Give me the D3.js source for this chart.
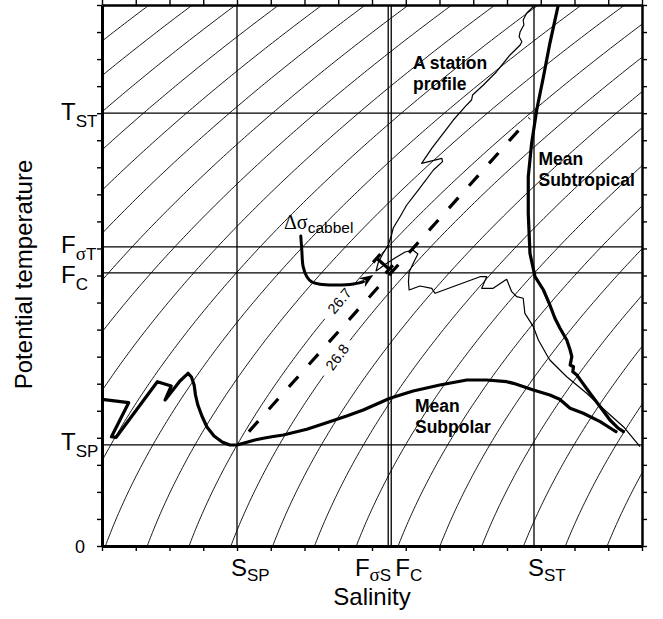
<!DOCTYPE html>
<html>
<head>
<meta charset="utf-8">
<script src="https://cdn.jsdelivr.net/npm/d3@7"></script>
<style>
  html, body { margin: 0; padding: 0; background: #fff; }
  svg { display: block; }
  text { font-family: "Liberation Sans", Arial, Helvetica, sans-serif; fill: #000; }
</style>
</head>
<body>
<svg id="chart" width="663" height="619"></svg>
<script>
// ---- axis extents (salinity in psu, potential temperature in degC) ----
const salinityDomain = [33.0, 34.6];
const temperatureDomain = [0, 10];
const salinityTicks = d3.range(0, 17).map(i => +(33.0 + i * 0.1).toFixed(1));
const temperatureTicks = d3.range(0, 21).map(i => i * 0.5);

// ---- isopycnal levels (sigma-theta, kg m^-3) ----
const sigmaLevels = d3.range(250, 281).map(d => d / 10);
const labelledSigmas = [26.7, 26.8];
const labelledSigmaTemps = [4.53, 3.49];

// ---- end members, mixture and profile reference points ----
const subpolarPoint = { S: 33.40, T: 1.87 };
const subtropicalPoint = { S: 34.28, T: 8.00 };
const mixturePoint = { S: 33.857, T: 5.05 };     // F_C
const profilePoint = { S: 33.848, T: 5.53 };     // F_sigma
const mixingSpan = [0.04, 0.985];                // drawn part of the mixing line

// ---- symbolic tick labels ----
const salinityLabelValues = [33.40, 33.848, 33.857, 34.28];
const salinityLabelMain = ["S", "F", "F", "S"];
const salinityLabelSub = ["SP", "σS", "C", "ST"];
const temperatureLabelValues = [8.00, 5.53, 5.05, 1.87];
const temperatureLabelMain = ["T", "F", "F", "T"];
const temperatureLabelSub = ["ST", "σT", "C", "SP"];

// ---- mean water-mass curves [S, T] ----
const meanSubpolar = [
  [33.000, 2.712], [33.079, 2.649], [33.028, 2.020], [33.042, 2.009], [33.164, 3.037],
  [33.205, 2.957], [33.187, 2.699], [33.231, 3.050], [33.255, 3.192], [33.265, 3.124],
  [33.273, 2.976], [33.277, 2.791], [33.284, 2.606], [33.296, 2.403], [33.311, 2.200],
  [33.332, 2.033], [33.356, 1.922], [33.379, 1.867], [33.400, 1.867], [33.453, 1.959],
  [33.478, 1.991], [33.503, 2.020], [33.537, 2.052], [33.607, 2.157], [33.661, 2.268],
  [33.725, 2.403], [33.774, 2.514], [33.853, 2.730], [33.922, 2.865], [34.001, 2.976],
  [34.081, 3.068], [34.140, 3.068], [34.199, 3.037], [34.219, 3.007], [34.278, 2.884],
  [34.327, 2.791], [34.356, 2.712], [34.387, 2.545], [34.426, 2.453], [34.476, 2.298],
  [34.515, 2.144], [34.523, 2.113]
];
const meanSubtropical = [
  [34.352, 10.0], [34.327, 9.292], [34.308, 8.675], [34.288, 8.059], [34.273, 7.444],
  [34.263, 6.826], [34.263, 6.150], [34.268, 5.410], [34.283, 4.978], [34.308, 4.732],
  [34.327, 4.455], [34.342, 4.209], [34.357, 4.024], [34.377, 3.808], [34.387, 3.623],
  [34.392, 3.499], [34.387, 3.346], [34.397, 3.314], [34.395, 3.222], [34.407, 3.161],
  [34.421, 3.037], [34.446, 2.823], [34.476, 2.575], [34.505, 2.329], [34.530, 2.176],
  [34.545, 2.113]
];

// ---- a single station profile [S, T] ----
const stationProfile = [
  [34.283, 10.0], [34.258, 9.847], [34.248, 9.723], [34.250, 9.630], [34.239, 9.506],
  [34.236, 9.414], [34.244, 9.322], [34.239, 9.261], [34.209, 9.076], [34.169, 8.767],
  [34.130, 8.521], [34.098, 8.336], [34.095, 8.244], [34.076, 8.120], [34.041, 7.874],
  [34.011, 7.628], [33.977, 7.351], [33.947, 7.074], [34.007, 7.166], [34.009, 7.104],
  [33.982, 6.950], [33.937, 6.580], [33.903, 6.303], [33.883, 6.087], [33.863, 5.878],
  [33.858, 5.749], [33.848, 5.564], [33.833, 5.410], [33.819, 5.250], [33.812, 5.083],
  [33.841, 5.213], [33.868, 5.323], [33.898, 5.434], [33.921, 5.471], [33.936, 5.397],
  [33.924, 5.250], [33.910, 5.065], [33.908, 4.880], [33.910, 4.732], [33.942, 4.806],
  [33.977, 4.763], [33.987, 4.671], [34.120, 4.978], [34.140, 4.978], [34.125, 4.763],
  [34.159, 4.763], [34.199, 4.930], [34.214, 4.701], [34.229, 4.608], [34.248, 4.579],
  [34.253, 4.301], [34.278, 4.054], [34.293, 3.808], [34.318, 3.531], [34.327, 3.438],
  [34.347, 3.314], [34.377, 3.129], [34.436, 2.823], [34.495, 2.482], [34.545, 2.205],
  [34.594, 1.835]
];

// ---- cabbeling annotation: arrow path and density-difference bar [S, T] ----
const cabbelingArrow = [
  [33.589, 5.730], [33.592, 5.471], [33.596, 5.163], [33.607, 4.978], [33.621, 4.885],
  [33.646, 4.837], [33.695, 4.824], [33.745, 4.843], [33.774, 4.885], [33.804, 5.010]
];
const cabbelingBar = [[33.814, 5.318], [33.851, 5.115]];

// ================= drawing =================
const svg = d3.select("#chart");
const plot = { left: 102, right: 642, top: 5, bottom: 546 };
const x = d3.scaleLinear().domain(salinityDomain).range([plot.left, plot.right]);
const y = d3.scaleLinear().domain(temperatureDomain).range([plot.bottom, plot.top]);

// UNESCO (EOS-80) density anomaly at surface pressure
function sigmaTheta(S, T) {
  const rw = 999.842594 + 6.793952e-2 * T - 9.095290e-3 * T * T + 1.001685e-4 * T ** 3
           - 1.120083e-6 * T ** 4 + 6.536332e-9 * T ** 5;
  const A = 8.24493e-1 - 4.0899e-3 * T + 7.6438e-5 * T * T - 8.2467e-7 * T ** 3 + 5.3875e-9 * T ** 4;
  const B = -5.72466e-3 + 1.0227e-4 * T - 1.6546e-6 * T * T;
  const C = 4.8314e-4;
  return rw + A * S + B * Math.pow(S, 1.5) + C * S * S - 1000;
}
function salinityOnIsopycnal(sig, T) {
  let S = 34;
  for (let i = 0; i < 12; i++) {
    const f = sigmaTheta(S, T) - sig;
    const d = (sigmaTheta(S + 1e-4, T) - sigmaTheta(S - 1e-4, T)) / 2e-4;
    S -= f / d;
  }
  return S;
}

svg.append("defs").append("clipPath").attr("id", "plotClip")
  .append("rect")
  .attr("x", plot.left).attr("y", plot.top)
  .attr("width", plot.right - plot.left).attr("height", plot.bottom - plot.top);

const inner = svg.append("g").attr("clip-path", "url(#plotClip)");

// isopycnals, with a break where a level is labelled
const tempSamples = d3.range(0, 10.0001, 0.05);
const labelGapRadius = 20;
const labelInfo = labelledSigmas.map((sig, i) => {
  const T = labelledSigmaTemps[i];
  const S = salinityOnIsopycnal(sig, T);
  const p0 = [x(salinityOnIsopycnal(sig, T - 0.05)), y(T - 0.05)];
  const p1 = [x(salinityOnIsopycnal(sig, T + 0.05)), y(T + 0.05)];
  const angle = Math.atan2(p1[1] - p0[1], p1[0] - p0[0]) * 180 / Math.PI;
  return { sig, cx: x(S), cy: y(T), angle };
});

sigmaLevels.forEach(sig => {
  const lab = labelInfo.find(l => Math.abs(l.sig - sig) < 1e-6);
  const pts = tempSamples.map(T => [x(salinityOnIsopycnal(sig, T)), y(T)]);
  const line = d3.line()
    .defined(p => !lab || Math.hypot(p[0] - lab.cx, p[1] - lab.cy) > labelGapRadius);
  inner.append("path")
    .attr("d", line(pts))
    .attr("fill", "none").attr("stroke", "#000").attr("stroke-width", 0.9);
});

labelInfo.forEach(l => {
  svg.append("text")
    .attr("transform", `translate(${l.cx},${l.cy}) rotate(${l.angle})`)
    .attr("text-anchor", "middle")
    .attr("dominant-baseline", "central")
    .attr("font-size", 14.5)
    .text(l.sig.toFixed(1));
});

// reference lines for end members and mixture points
const vLines = salinityLabelValues;
const hLines = temperatureLabelValues;
inner.selectAll(".vref").data(vLines).join("line")
  .attr("x1", d => x(d)).attr("x2", d => x(d))
  .attr("y1", plot.top).attr("y2", plot.bottom)
  .attr("stroke", "#000").attr("stroke-width", 1.3);
inner.selectAll(".href").data(hLines).join("line")
  .attr("y1", d => y(d)).attr("y2", d => y(d))
  .attr("x1", plot.left).attr("x2", plot.right)
  .attr("stroke", "#000").attr("stroke-width", 1.3);

const lineTS = d3.line().x(d => x(d[0])).y(d => y(d[1]));

// station profile
inner.append("path").attr("d", lineTS(stationProfile))
  .attr("fill", "none").attr("stroke", "#000").attr("stroke-width", 1.2)
  .attr("stroke-linejoin", "round");

// mean curves
[meanSubpolar, meanSubtropical].forEach(c => {
  inner.append("path").attr("d", lineTS(c))
    .attr("fill", "none").attr("stroke", "#000").attr("stroke-width", 3.2)
    .attr("stroke-linejoin", "round").attr("stroke-linecap", "round");
});

// mixing line between the two end members
const mixAt = f => [subpolarPoint.S + f * (subtropicalPoint.S - subpolarPoint.S),
                    subpolarPoint.T + f * (subtropicalPoint.T - subpolarPoint.T)];
inner.append("path").attr("d", lineTS([mixAt(mixingSpan[0]), mixAt(mixingSpan[1])]))
  .attr("fill", "none").attr("stroke", "#000").attr("stroke-width", 3.2)
  .attr("stroke-dasharray", "14 16");

// density-difference bar with end caps
{
  const a = [x(cabbelingBar[0][0]), y(cabbelingBar[0][1])];
  const b = [x(cabbelingBar[1][0]), y(cabbelingBar[1][1])];
  const len = Math.hypot(b[0] - a[0], b[1] - a[1]);
  const ux = (b[0] - a[0]) / len, uy = (b[1] - a[1]) / len;
  const px = -uy * 5.5, py = ux * 5.5;
  const g = svg.append("g").attr("stroke", "#000").attr("stroke-width", 3.2);
  g.append("line").attr("x1", a[0]).attr("y1", a[1]).attr("x2", b[0]).attr("y2", b[1]);
  [a, b].forEach(p => g.append("line")
    .attr("x1", p[0] - px).attr("y1", p[1] - py)
    .attr("x2", p[0] + px).attr("y2", p[1] + py));
}

// arrow from the label to the bar
{
  const arrowLine = d3.line().x(d => x(d[0])).y(d => y(d[1])).curve(d3.curveCatmullRom);
  const n = cabbelingArrow.length;
  const tip = [x(cabbelingArrow[n - 1][0]), y(cabbelingArrow[n - 1][1])];
  const prev = [x(cabbelingArrow[n - 2][0]), y(cabbelingArrow[n - 2][1])];
  const L = Math.hypot(tip[0] - prev[0], tip[1] - prev[1]);
  const ux = (tip[0] - prev[0]) / L, uy = (tip[1] - prev[1]) / L;
  const headLen = 12, headHalf = 5.5;
  const base = [tip[0] - ux * headLen, tip[1] - uy * headLen];
  svg.append("path").attr("d", arrowLine(cabbelingArrow.slice(0, n - 1).concat([[x.invert(base[0]), y.invert(base[1])]])))
    .attr("fill", "none").attr("stroke", "#000").attr("stroke-width", 3)
    .attr("stroke-linecap", "round");
  svg.append("path")
    .attr("d", `M${tip[0]},${tip[1]} L${base[0] - uy * headHalf - ux * 2},${base[1] + ux * headHalf - uy * 2} L${base[0] + ux * 2.5},${base[1] + uy * 2.5} L${base[0] + uy * headHalf - ux * 2},${base[1] - ux * headHalf - uy * 2} Z`)
    .attr("fill", "#000");
}

// ---- frame and ticks ----
const tickStyle = g => {
  g.selectAll(".tick line").attr("stroke", "#000").attr("stroke-width", 1.4);
  g.selectAll(".tick text").remove();
  g.select(".domain").attr("stroke", "#000").attr("stroke-width", 3);
};
svg.append("g").attr("transform", `translate(0,${plot.bottom})`)
  .call(d3.axisBottom(x).tickValues(salinityTicks).tickSize(5).tickSizeOuter(0)).call(tickStyle);
svg.append("g").attr("transform", `translate(0,${plot.top})`)
  .call(d3.axisTop(x).tickValues(salinityTicks).tickSize(5).tickSizeOuter(0)).call(tickStyle)
  .select(".domain").attr("stroke-width", 2.5);
svg.append("g").attr("transform", `translate(${plot.left},0)`)
  .call(d3.axisLeft(y).tickValues(temperatureTicks).tickSize(5).tickSizeOuter(0)).call(tickStyle);
svg.append("g").attr("transform", `translate(${plot.right},0)`)
  .call(d3.axisRight(y).tickValues(temperatureTicks).tickSize(5).tickSizeOuter(0)).call(tickStyle)
  .select(".domain").attr("stroke-width", 2.5);

// ---- symbolic tick labels ----
function addParts(textSel, main, sub, subShift) {
  textSel.append("tspan").attr("font-size", 24).text(main);
  let first = true;
  for (const ch of sub) {
    const greek = /[\u0370-\u03ff]/.test(ch);
    const t = textSel.append("tspan").attr("font-size", greek ? 19 : 17).text(ch);
    if (greek) t.attr("font-family", "'Liberation Serif', 'DejaVu Serif', serif");
    if (first) { t.attr("dy", subShift); first = false; }
  }
}
const xLabelAnchor = ["start", "end", "start", "start"];
const xLabelDx = [-6, 3, 4, -6];
salinityLabelValues.forEach((v, i) => {
  const t = svg.append("text")
    .attr("x", x(v) + xLabelDx[i]).attr("y", 575.5)
    .attr("text-anchor", xLabelAnchor[i]);
  addParts(t, salinityLabelMain[i], salinityLabelSub[i], 5);
});
const yLabelDy = [7, 6, 10, 5];
temperatureLabelValues.forEach((v, i) => {
  const t = svg.append("text")
    .attr("x", 61).attr("y", y(v) + yLabelDy[i])
    .attr("text-anchor", "start");
  addParts(t, temperatureLabelMain[i], temperatureLabelSub[i], 7);
});
svg.append("text").attr("x", 85).attr("y", y(0) + 7)
  .attr("text-anchor", "end").attr("font-size", 18).text("0");

// ---- axis titles ----
svg.append("text")
  .attr("transform", `translate(32,${(plot.top + plot.bottom) / 2 - 1}) rotate(-90)`)
  .attr("text-anchor", "middle").attr("font-size", 24)
  .text("Potential temperature");
svg.append("text")
  .attr("x", (plot.left + plot.right) / 2).attr("y", 605)
  .attr("text-anchor", "middle").attr("font-size", 24)
  .text("Salinity");

// ---- annotations ----
function boldLines(x0, y0, lines) {
  const t = svg.append("text").attr("font-size", 17.5).attr("font-weight", "bold");
  lines.forEach((s, i) => t.append("tspan").attr("x", x0).attr("y", y0 + i * 21).text(s));
}
boldLines(413, 69, ["A station", "profile"]);
boldLines(538.5, 165, ["Mean", "Subtropical"]);
boldLines(415, 411.5, ["Mean", "Subpolar"]);

{
  const t = svg.append("text").attr("x", 284).attr("y", 229);
  t.append("tspan").attr("font-family", "'Liberation Serif', 'DejaVu Serif', serif")
    .attr("font-size", 20).text("Δσ");
  t.append("tspan").attr("font-size", 15.5).attr("dy", 4).text("cabbel");
}
</script>
</body>
</html>
